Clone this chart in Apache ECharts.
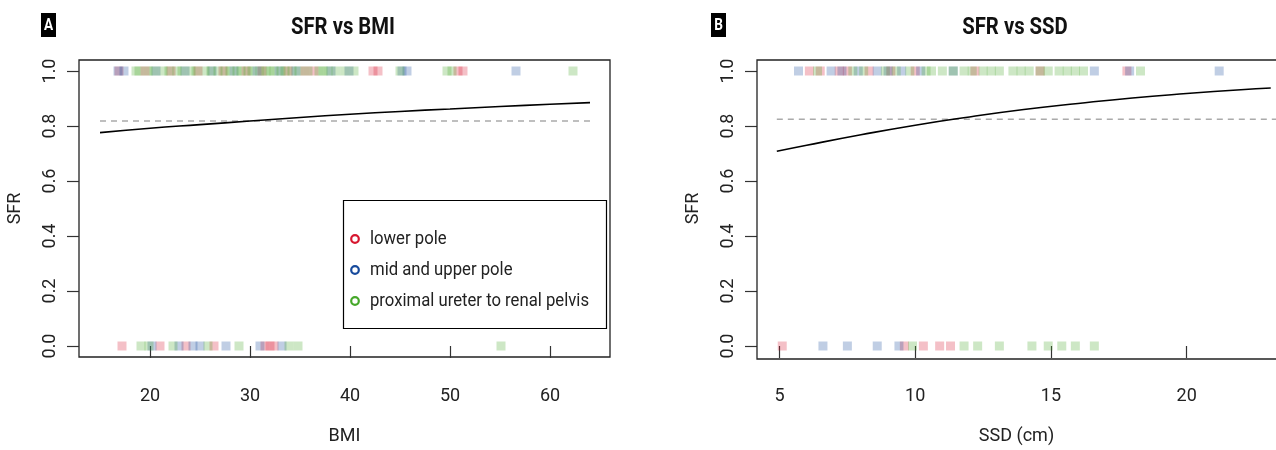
<!DOCTYPE html>
<html><head><meta charset="utf-8">
<script src="https://cdn.jsdelivr.net/npm/echarts@6/dist/echarts.min.js"></script>
<style>html,body{margin:0;padding:0;background:#fff}#c{width:1276px;height:450px}</style>
</head><body><div id="c"></div>
<script>
// ---- Data ----
const groups = ['lower pole', 'mid and upper pole', 'proximal ureter to renal pelvis'];
const groupColors = ['#d7172f', '#174a9c', '#46a82a'];

// Panel A: BMI
const bmiLowerSFR1 = [16.9, 19.5, 22.1, 24.8, 27.3, 29.6, 31.2, 33.8, 35.5, 36.4, 42.3, 42.8, 50.8, 51.3];
const bmiMidSFR1 = [16.8, 17.4, 20.6, 23.5, 26.2, 28.4, 30.7, 32.9, 34.6, 38.1, 39.9, 45.2, 45.7, 56.6];
const bmiProxSFR1 = [18.6, 18.9, 19.8, 20.4, 21.3, 21.9, 22.7, 23.2, 24.1, 24.6, 25.5, 26.1, 26.8, 27.5, 28.0, 28.7, 29.1, 29.8,
  30.2, 31.0, 31.6, 32.0, 32.4, 33.1, 33.5, 34.2, 34.9, 35.8, 36.9, 37.3, 37.8, 38.6, 39.5, 40.4, 45.0, 49.7, 50.2, 62.3];
const bmiLowerSFR0 = [17.2, 21.0, 23.6, 26.4, 31.5, 32.0, 32.4];
const bmiMidSFR0 = [20.2, 22.9, 24.3, 25.0, 27.6, 31.0, 33.2];
const bmiProxSFR0 = [19.1, 19.9, 22.3, 25.8, 28.9, 33.9, 34.8, 55.1];
const bmiCurveX = [15, 20, 25, 30, 35, 40, 45, 50, 55, 60, 64];
const bmiCurveY = [0.776, 0.792, 0.805, 0.818, 0.831, 0.843, 0.853, 0.862, 0.871, 0.879, 0.885];
const bmiMeanSFR = 0.818;
const bmiRange = [15, 64];

// Panel B: SSD
const ssdLowerSFR1 = [6.1, 6.5, 7.2, 7.5, 8.3, 9.1, 10.0, 12.2, 14.6, 17.8];
const ssdMidSFR1 = [5.7, 6.9, 7.3, 7.9, 8.6, 9.0, 9.5, 10.2, 11.4, 16.6, 17.9, 21.2];
const ssdProxSFR1 = [6.4, 7.7, 8.1, 8.9, 9.3, 9.8, 10.4, 10.6, 11.0, 11.4, 11.8, 12.1, 12.5, 12.8, 13.1, 13.6, 13.9, 14.2,
  14.6, 14.9, 15.3, 15.6, 15.9, 16.2, 18.3];
const ssdLowerSFR0 = [5.1, 9.6, 10.3, 10.9, 11.3];
const ssdMidSFR0 = [6.6, 7.5, 8.6, 9.4];
const ssdProxSFR0 = [9.9, 11.8, 12.3, 13.1, 14.3, 14.9, 15.4, 15.9, 16.6];
const ssdCurveX = [4.9, 6, 8, 10, 12, 14, 16, 18, 20, 22, 23.1];
const ssdCurveY = [0.708, 0.730, 0.768, 0.803, 0.833, 0.860, 0.882, 0.902, 0.918, 0.932, 0.938];
const ssdMeanSFR = 0.825;
const ssdRange = [4.9, 23.3];

// Tick labels
const bmiTicks = [20, 30, 40, 50, 60];
const ssdTicks = [5, 10, 15, 20];
const sfrTicks = [0, 0.2, 0.4, 0.6, 0.8, 1.0];

// ---- Chart ----
const FONT = 'Roboto, "Liberation Sans", sans-serif';
const chart = echarts.init(document.getElementById('c'), null, {renderer: 'canvas'});
const mctx = document.createElement('canvas').getContext('2d');
function fitScale(text, font, target) { mctx.font = font; return target / mctx.measureText(text).width; }

function xAxisCfg(idx, min, max, ticks, name) {
  return {
    gridIndex: idx, type: 'value', min: min, max: max, name: name,
    nameLocation: 'middle', nameGap: 70,
    nameTextStyle: {fontFamily: FONT, fontSize: 18, color: '#222'},
    splitLine: {show: false},
    axisLine: {show: false},
    axisTick: {show: true, length: 12, inside: false, customValues: ticks, lineStyle: {color: '#333', width: 1.2}},
    axisLabel: {customValues: ticks, margin: 30, fontFamily: FONT, fontSize: 18, color: '#222'}
  };
}
function yAxisCfg(idx) {
  return {
    gridIndex: idx, type: 'value', min: -0.04, max: 1.04, name: 'SFR',
    nameLocation: 'middle', nameGap: 55,
    nameTextStyle: {fontFamily: FONT, fontSize: 18, color: '#222'},
    splitLine: {show: false},
    axisLine: {show: false},
    axisTick: {show: true, length: 12, customValues: sfrTicks, lineStyle: {color: '#333', width: 1.2}},
    axisLabel: {customValues: sfrTicks, rotate: 90, margin: 20, fontFamily: FONT, fontSize: 18, color: '#222',
      formatter: v => v.toFixed(1)}
  };
}
function pts(xs, y) { return xs.map(x => [x, y]); }
function scatter(idx, xs, y, color) {
  return {type: 'scatter', xAxisIndex: idx, yAxisIndex: idx, data: pts(xs, y), symbol: 'rect', symbolSize: 9,
    itemStyle: {color: color, opacity: 0.27}, silent: true, z: 2};
}
function curve(idx, xs, ys) {
  return {type: 'line', xAxisIndex: idx, yAxisIndex: idx, data: xs.map((x, i) => [x, ys[i]]), smooth: true,
    showSymbol: false, lineStyle: {color: '#000', width: 1.6}, silent: true, z: 4};
}
function meanLine(idx, range, y) {
  return {type: 'line', xAxisIndex: idx, yAxisIndex: idx, data: [[range[0], y], [range[1], y]], showSymbol: false,
    lineStyle: {color: '#aaa', width: 1.5, type: [6, 5]}, silent: true, z: 3};
}

const series = [
  scatter(0, bmiLowerSFR1, 1, groupColors[0]), scatter(0, bmiMidSFR1, 1, groupColors[1]), scatter(0, bmiProxSFR1, 1, groupColors[2]),
  scatter(0, bmiLowerSFR0, 0, groupColors[0]), scatter(0, bmiMidSFR0, 0, groupColors[1]), scatter(0, bmiProxSFR0, 0, groupColors[2]),
  meanLine(0, bmiRange, bmiMeanSFR), curve(0, bmiCurveX, bmiCurveY),
  scatter(1, ssdLowerSFR1, 1, groupColors[0]), scatter(1, ssdMidSFR1, 1, groupColors[1]), scatter(1, ssdProxSFR1, 1, groupColors[2]),
  scatter(1, ssdLowerSFR0, 0, groupColors[0]), scatter(1, ssdMidSFR0, 0, groupColors[1]), scatter(1, ssdProxSFR0, 0, groupColors[2]),
  meanLine(1, ssdRange, ssdMeanSFR), curve(1, ssdCurveX, ssdCurveY)
];

// legend (inside panel A)
const LFONT = '19px ' + FONT;
const lscale = fitScale(groups[2], LFONT, 219);
const legendChildren = [{type: 'rect', shape: {x: 343.5, y: 200.5, width: 263, height: 128},
  style: {fill: '#fff', stroke: '#000', lineWidth: 1.2}}];
groups.forEach((g, i) => {
  const cy = 239 + i * 31;
  legendChildren.push({type: 'circle', shape: {cx: 355, cy: cy, r: 3.8},
    style: {fill: 'none', stroke: groupColors[i], lineWidth: 2.2}});
  legendChildren.push({type: 'text', x: 370, y: cy, scaleX: lscale, style: {text: g, fill: '#222', font: LFONT,
    verticalAlign: 'middle'}});
});

function panelLetter(x, letter) {
  return [{type: 'rect', shape: {x: x, y: 13, width: 15, height: 24}, style: {fill: '#000'}},
    {type: 'text', x: x + 7.5, y: 25.5, scaleX: 0.8, style: {text: letter, fill: '#fff', font: 'bold 17px ' + FONT,
      align: 'center', verticalAlign: 'middle'}}];
}
const TFONT = 'bold 24px ' + FONT;
function title(x, text) {
  return {type: 'text', x: x, y: 28, scaleX: fitScale('SFR vs BMI', TFONT, 104),
    style: {text: text, fill: '#111', font: TFONT, align: 'center', verticalAlign: 'middle'}};
}

const GRID_B_W = 519;
chart.setOption({
  animation: false,
  backgroundColor: '#fff',
  grid: [
    {left: 79, top: 60, width: 531, height: 299, show: true, borderColor: '#222', borderWidth: 1.3, backgroundColor: 'transparent'},
    {left: 757, top: 60, width: GRID_B_W, height: 299, show: false}
  ],
  xAxis: [xAxisCfg(0, 12.9, 66.0, bmiTicks, 'BMI'), xAxisCfg(1, 4.17, 4.17 + GRID_B_W / 27.14, ssdTicks, 'SSD (cm)')],
  yAxis: [yAxisCfg(0), yAxisCfg(1)],
  series: series,
  graphic: [
    title(343, 'SFR vs BMI'), title(1015, 'SFR vs SSD'),
    ...panelLetter(41, 'A'), ...panelLetter(711, 'B'),
    // panel B frame: continues past the right edge of the page
    {type: 'rect', shape: {x: 757, y: 60, width: 560, height: 299}, style: {fill: 'none', stroke: '#222', lineWidth: 1.3}, z: 50},
    {type: 'group', children: legendChildren, z: 100}
  ]
});
</script></body></html>
